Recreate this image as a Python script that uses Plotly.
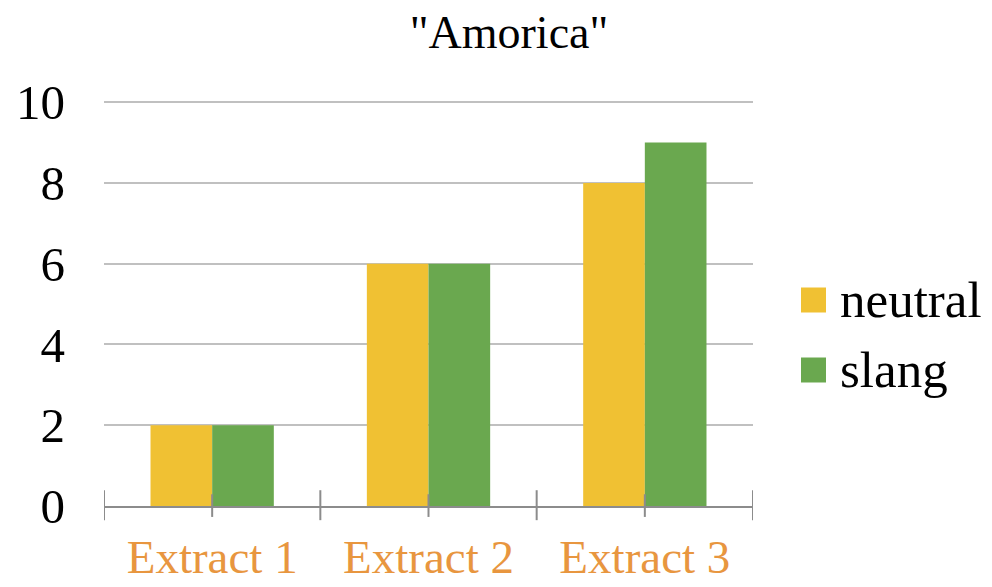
import plotly.graph_objects as go

categories = ["Extract 1", "Extract 2", "Extract 3"]
neutral = [2, 6, 8]
slang = [2, 6, 9]
y_ticks = [0, 2, 4, 6, 8, 10]
series_names = ["neutral", "slang"]
series_colors = ["#F0C133", "#6AA84F"]
title_text = '"Amorica"'

FONT = "Liberation Serif"
W, H = 992, 587
L, R, T, B = 104, 239, 101, 81
PW, PH = W - L - R, H - T - B

fig = go.Figure()
for name, vals, col in zip(series_names, [neutral, slang], series_colors):
    fig.add_trace(go.Bar(name=name, x=categories, y=vals,
                         marker=dict(color=col, line=dict(width=0)), showlegend=False))

# category boundary ticks and center ticks (axis decoration)
n = len(categories)
for i in range(n + 1):
    fig.add_shape(type="line", xref="x", yref="paper", x0=i - 0.5, x1=i - 0.5,
                  y0=-0.035, y1=0.039, line=dict(color="#8c8c8c", width=2), layer="above")
for i in range(n):
    fig.add_shape(type="line", xref="x", yref="paper", x0=i, x1=i,
                  y0=-0.027, y1=0.029, line=dict(color="#8c8c8c", width=2), layer="above")

# legend (large square swatches like the reference)
def px_x(px):
    return (px - L) / PW

def px_y(py):
    return (H - B - py) / PH

legend_centers = [300, 370]
for name, col, cy in zip(series_names, series_colors, legend_centers):
    fig.add_shape(type="rect", xref="paper", yref="paper",
                  x0=px_x(801), x1=px_x(826), y0=px_y(cy + 12.5), y1=px_y(cy - 12.5),
                  fillcolor=col, line=dict(width=0))
    fig.add_annotation(text=name, xref="paper", yref="paper", x=px_x(838), y=px_y(cy),
                       xanchor="left", yanchor="middle", showarrow=False,
                       font=dict(family=FONT, size=51, color="black"))

fig.update_layout(
    width=W, height=H,
    margin=dict(l=L, r=R, t=T, b=B, pad=0, autoexpand=False),
    paper_bgcolor="white", plot_bgcolor="white",
    barmode="group", bargap=0.43, bargroupgap=0,
    font=dict(family=FONT, color="black", size=48),
    title=dict(text=title_text, x=509 / W, xref="container", xanchor="center",
               y=1 - 32 / H, yref="container", yanchor="middle",
               font=dict(family=FONT, size=46, color="black")),
    xaxis=dict(range=[-0.5, n - 0.5], showgrid=False, showline=True, linecolor="#8c8c8c",
               linewidth=2, ticks="", tickfont=dict(color="#E8963F", size=47, family=FONT),
               ticklabelstandoff=9, automargin=False),
    yaxis=dict(range=[0, 10.03], tickvals=y_ticks, showgrid=True, gridcolor="#c0c0c0", gridwidth=1.5,
               zeroline=False, showline=False, ticks="", tickfont=dict(size=49, family=FONT),
               ticklabelstandoff=38, automargin=False),
    showlegend=False,
)

fig.write_html("out.html")
